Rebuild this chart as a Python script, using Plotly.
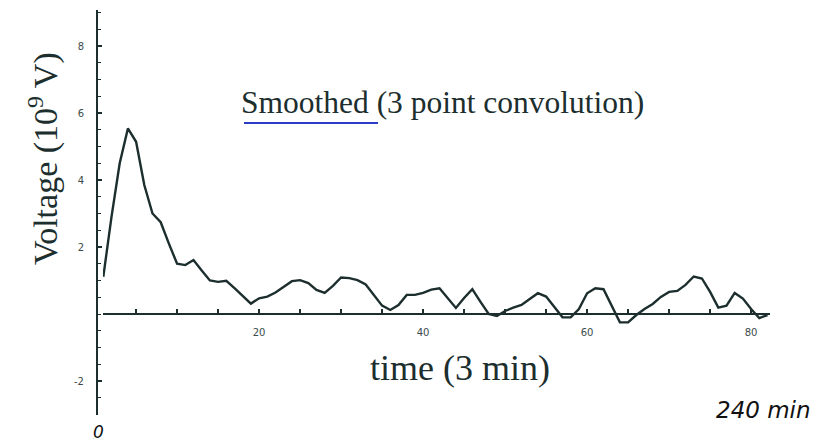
import plotly.graph_objects as go

# ---- data ----
time_index = list(range(1, 83))
voltage = [
    1.11, 2.90, 4.50, 5.54, 5.14, 3.85, 3.00, 2.74, 2.10, 1.50,
    1.46, 1.61, 1.30, 1.00, 0.96, 0.99, 0.77, 0.54, 0.31, 0.47,
    0.52, 0.64, 0.80, 0.98, 1.01, 0.92, 0.72, 0.63, 0.84, 1.09,
    1.07, 1.01, 0.88, 0.57, 0.25, 0.12, 0.27, 0.57, 0.57, 0.63,
    0.73, 0.77, 0.48, 0.18, 0.48, 0.74, 0.36, 0.00, -0.06, 0.09,
    0.19, 0.27, 0.45, 0.62, 0.52, 0.20, -0.10, -0.10, 0.15, 0.62,
    0.77, 0.74, 0.22, -0.25, -0.25, -0.03, 0.15, 0.30, 0.51, 0.66,
    0.69, 0.87, 1.12, 1.06, 0.66, 0.19, 0.25, 0.63, 0.46, 0.15,
    -0.12, -0.03,
]
x_tickvals = [20, 40, 60, 80]
y_tickvals = [-2, 2, 4, 6, 8]
y_ticktext = ["-2", "2", "4", "6", "8"]

W, H = 831, 443
INK = "#1c2e2e"

def px(x):
    return x / W

def py(y):
    return (H - y) / H

fig = go.Figure()
fig.add_trace(go.Scatter(
    x=time_index, y=voltage, mode="lines",
    line=dict(color=INK, width=2.4), hoverinfo="skip", showlegend=False,
))

fig.update_layout(
    width=W, height=H,
    margin=dict(l=0, r=0, t=0, b=0),
    paper_bgcolor="white", plot_bgcolor="white",
    showlegend=False,
    xaxis=dict(
        domain=[px(103), px(770)],
        range=[(103 - 95.1) / 8.2, (770 - 95.1) / 8.2],
        anchor="free", position=py(314),
        showgrid=False, zeroline=False,
        showline=True, linecolor=INK, linewidth=2,
        tickmode="array", tickvals=x_tickvals,
        ticks="inside", ticklen=4, tickwidth=1.5, tickcolor=INK,
        minor=dict(tickmode="linear", tick0=0, dtick=5, ticks="inside",
                   ticklen=4, tickwidth=1.5, tickcolor=INK),
        tickfont=dict(family="DejaVu Sans", size=10, color="#3b4b4b"),
        ticklabelstandoff=9,
    ),
    yaxis=dict(
        domain=[py(415), py(10)],
        range=[-(415 - 314) / 33.5, (314 - 10) / 33.5],
        anchor="free", position=px(97),
        showgrid=False, zeroline=False,
        showline=True, linecolor=INK, linewidth=2,
        tickmode="array", tickvals=y_tickvals, ticktext=y_ticktext,
        ticks="inside", ticklen=4, tickwidth=1.5, tickcolor=INK,
        minor=dict(tickmode="linear", tick0=0, dtick=0.5, ticks="inside",
                   ticklen=2.5, tickwidth=1, tickcolor=INK),
        tickfont=dict(family="DejaVu Sans", size=10, color="#3b4b4b"),
        ticklabelstandoff=10,
    ),
)

serif = "Liberation Serif"
fig.add_annotation(
    x=px(443), y=py(103), xref="paper", yref="paper",
    text="Smoothed (3 point convolution)", showarrow=False,
    xanchor="center", yanchor="middle",
    font=dict(family=serif, size=31.5, color=INK),
)
fig.add_shape(
    type="line", xref="paper", yref="paper",
    x0=px(244), x1=px(378), y0=py(123), y1=py(123),
    line=dict(color="#2a3cc4", width=2),
)
fig.add_annotation(
    x=px(460), y=py(368), xref="paper", yref="paper",
    text="time (3 min)", showarrow=False,
    xanchor="center", yanchor="middle",
    font=dict(family=serif, size=36, color=INK),
)
fig.add_annotation(
    x=px(43), y=py(159), xref="paper", yref="paper",
    text="Voltage (10<sup>9</sup> V)", showarrow=False, textangle=-90,
    xanchor="center", yanchor="middle",
    font=dict(family=serif, size=34, color=INK),
)
fig.add_annotation(
    x=px(763), y=py(410), xref="paper", yref="paper",
    text="<i>240 min</i>", showarrow=False,
    xanchor="center", yanchor="middle",
    font=dict(family="DejaVu Sans", size=23, color="#111"),
)
fig.add_annotation(
    x=px(98), y=py(432), xref="paper", yref="paper",
    text="<i>0</i>", showarrow=False,
    xanchor="center", yanchor="middle",
    font=dict(family="DejaVu Sans", size=17, color="#111"),
)

fig.write_html(
    "out.html",
    config={"displayModeBar": False},
    post_script="document.body.style.margin='0';document.body.style.padding='0';"
                "document.documentElement.style.overflow='hidden';",
)
